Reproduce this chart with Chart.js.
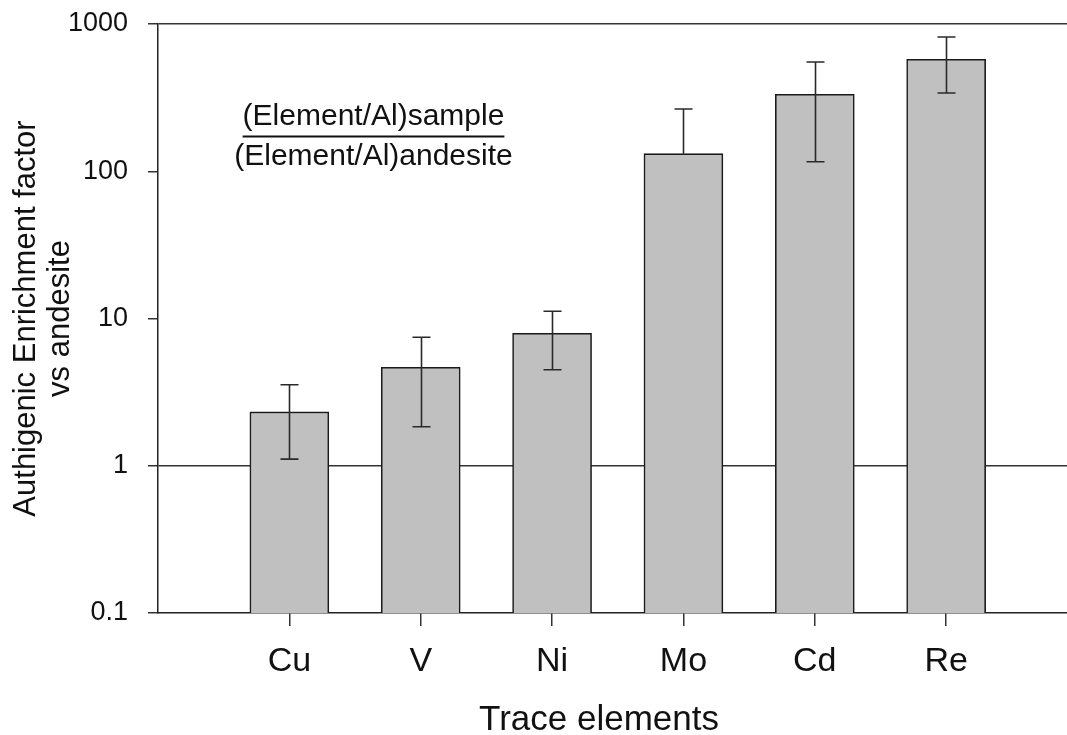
<!DOCTYPE html>
<html><head><meta charset="utf-8">
<script src="https://cdn.jsdelivr.net/npm/chart.js@4.4.0/dist/chart.umd.min.js"></script>
<style>html,body{margin:0;padding:0;background:#fff;} #wrap{width:1067px;height:735px;position:relative;}</style>
</head><body><div id="wrap"><canvas id="c"></canvas></div>
<script>
const categories = ['Cu', 'V', 'Ni', 'Mo', 'Cd', 'Re'];
const enrichment = [2.32, 4.66, 7.93, 131.6, 333, 576];
const errorHigh = [3.55, 7.45, 11.2, 265, 552, 816];
const errorLow = [1.11, 1.84, 4.49, null, 116, 340];
const yTickValues = [0.1, 1, 10, 100, 1000];
const yTitle = ['Authigenic Enrichment factor', 'vs andesite'];
const xTitle = 'Trace elements';
const ratioNumerator = '(Element/Al)sample';
const ratioDenominator = '(Element/Al)andesite';

const FONT = "'Liberation Sans', Arial, sans-serif";
Chart.defaults.font.family = FONT;

const errorBarPlugin = {
  id: 'errorBars',
  afterDatasetsDraw(chart) {
    const meta = chart.getDatasetMeta(0);
    const y = chart.scales.y;
    const ctx = chart.ctx;
    ctx.save();
    ctx.strokeStyle = '#2a2a2a';
    ctx.lineWidth = 1.6;
    meta.data.forEach((bar, i) => {
      const x = Math.round(bar.x) + 0.5;
      const yTop = y.getPixelForValue(errorHigh[i]);
      const yBot = errorLow[i] != null ? y.getPixelForValue(errorLow[i]) : bar.y;
      ctx.beginPath();
      ctx.moveTo(x, yTop); ctx.lineTo(x, yBot);
      ctx.moveTo(x - 9, yTop); ctx.lineTo(x + 9, yTop);
      if (errorLow[i] != null) { ctx.moveTo(x - 9, yBot); ctx.lineTo(x + 9, yBot); }
      ctx.stroke();
    });
    ctx.restore();
  }
};

const textPlugin = {
  id: 'extraText',
  afterDraw(chart) {
    const ctx = chart.ctx;
    ctx.save();
    ctx.fillStyle = '#111';
    ctx.textAlign = 'center';
    ctx.textBaseline = 'alphabetic';
    ctx.font = "30px " + FONT;
    const cx = 373.5;
    ctx.fillText(ratioNumerator, cx, 125);
    const w = ctx.measureText(ratioNumerator).width;
    ctx.fillRect(cx - w / 2, 135.5, w, 2);
    ctx.fillText(ratioDenominator, cx, 165);
    ctx.font = "35px " + FONT;
    ctx.fillText(xTitle, 599, 730);
    ctx.restore();
  }
};

new Chart(document.getElementById('c'), {
  type: 'bar',
  data: {
    datasets: [{
      data: categories.map((c, i) => ({ x: i + 1, y: enrichment[i] })),
      backgroundColor: '#c0c0c0',
      borderColor: '#1a1a1a',
      borderWidth: 1.6,
      barThickness: 79,
      borderSkipped: 'start'
    }]
  },
  options: {
    responsive: true,
    maintainAspectRatio: false,
    animation: false,
    layout: { padding: { left: 0, right: 0, top: 24, bottom: 0 } },
    plugins: { legend: { display: false }, tooltip: { enabled: false } },
    scales: {
      x: {
        type: 'linear', min: 0, max: 6.92, offset: false,
        afterBuildTicks: s => { s.ticks = categories.map((c, i) => ({ value: i + 1 })); },
        afterFit: s => { s.height = 122; s.paddingLeft = 0; s.paddingRight = 0; },
        ticks: { callback: v => categories[v - 1] ?? '', font: { size: 34 }, color: '#111', padding: 15, maxRotation: 0, autoSkip: false },
        grid: { drawOnChartArea: false, offset: false, tickLength: 13, color: '#333', lineWidth: 1.5 },
        border: { color: '#222', width: 1.5 },
        title: { display: false }
      },
      y: {
        type: 'logarithmic', min: 0.1, max: 1000, z: 1,
        afterBuildTicks: s => { s.ticks = yTickValues.map(v => ({ value: v })); },
        afterFit: s => { s.width = 158; s.paddingTop = 0; s.paddingBottom = 0; },
        ticks: { callback: v => String(v), font: { size: 27 }, color: '#111', padding: 20 },
        grid: {
          tickLength: 10, lineWidth: 1.5, tickColor: '#333',
          color: c => (c.tick && (c.tick.value === 1 || c.tick.value === 1000)) ? '#333' : 'rgba(0,0,0,0)'
        },
        border: { color: '#222', width: 1.5 },
        title: { display: true, text: yTitle, font: { size: 31, lineHeight: 1.1 }, color: '#111', padding: { top: 9, bottom: 0 } }
      }
    }
  },
  plugins: [errorBarPlugin, textPlugin]
});
</script>
</body></html>
